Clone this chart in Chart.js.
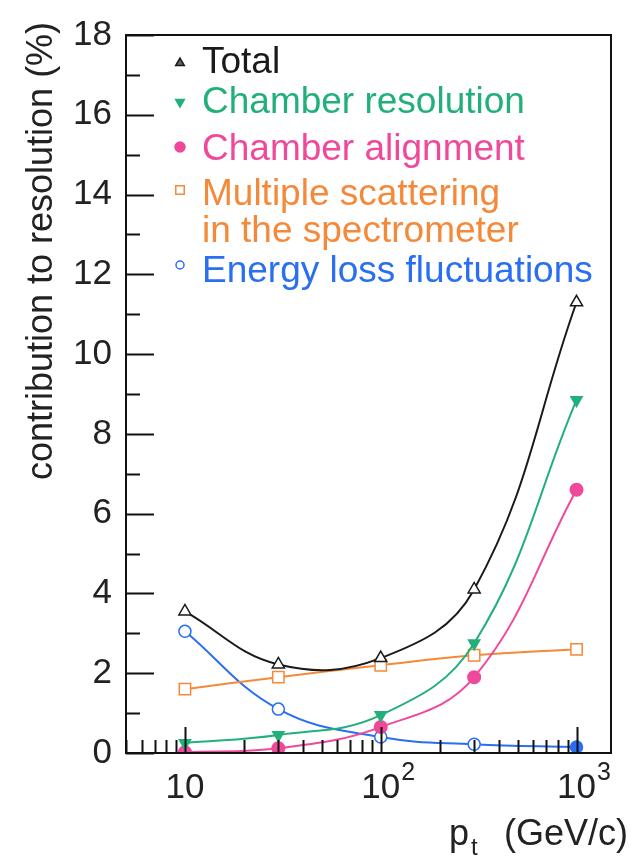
<!DOCTYPE html>
<html>
<head>
<meta charset="utf-8">
<script src="https://cdn.jsdelivr.net/npm/chart.js@4.4.0/dist/chart.umd.min.js"></script>
<style>
  html, body { margin: 0; padding: 0; background: #fff; }
  #c { display: block; }
</style>
</head>
<body>
<canvas id="c" width="635" height="861"></canvas>
<script>
// p_t values (GeV/c)
const ptValues = [10, 30, 100, 300, 1000];

// contribution to resolution (%)
const totalRes = [3.55, 2.22, 2.38, 4.1, 11.3];
const chamberRes = [0.25, 0.45, 0.95, 2.75, 8.85];
const chamberAlign = [0.02, 0.12, 0.65, 1.9, 6.6];
const multScatter = [1.6, 1.9, 2.2, 2.45, 2.6];
const energyLoss = [3.05, 1.1, 0.4, 0.22, 0.15];

const xMajorTicks = [10, 100, 1000];
const xTickLabels = [['10', ''], ['10', '2'], ['10', '3']];

const FONT = '"Liberation Sans", Arial, Helvetica, sans-serif';

const colors = {
    total: '#1a1a1a',
    res: '#22b07a',
    align: '#f0489a',
    scatter: '#f5893a',
    eloss: '#2a6ef2'
};

function toPoints(ys) {
    return ptValues.map((x, i) => ({ x: x, y: ys[i] }));
}

// legend entries drawn inside the plot frame
const legendItems = [
    { text: ['Total'], color: colors.total, style: 'triangle', rot: 0, fill: '#666', r: 5, my: 63, ty: [73] },
    { text: ['Chamber resolution'], color: colors.res, style: 'triangle', rot: 180, fill: colors.res, r: 5, my: 102, ty: [113] },
    { text: ['Chamber alignment'], color: colors.align, style: 'circle', rot: 0, fill: colors.align, r: 5, my: 147, ty: [160] },
    { text: ['Multiple scattering', 'in the spectrometer'], color: colors.scatter, style: 'rect', rot: 0, fill: '#fff', r: 6, my: 190, ty: [205, 242] },
    { text: ['Energy loss fluctuations'], color: colors.eloss, style: 'circle', rot: 0, fill: '#fff', r: 4, my: 265, ty: [282] }
];

const framePlugin = {
    id: 'frame',
    afterDatasetsDraw(chart) {
        const ctx = chart.ctx;
        const a = chart.chartArea;
        const xs = chart.scales.x;
        const ys = chart.scales.y;
        ctx.save();
        ctx.strokeStyle = '#111';
        ctx.lineWidth = 2;
        ctx.strokeRect(a.left, a.top, a.right - a.left, a.bottom - a.top);

        // inward ticks on y axis
        ctx.beginPath();
        for (let v = 0; v <= 18; v++) {
            const py = Math.round(ys.getPixelForValue(v)) + 0.5;
            const len = v % 2 === 0 ? 28 : 14;
            ctx.moveTo(a.left, py);
            ctx.lineTo(a.left + len, py);
        }
        // inward ticks on x axis (log)
        for (let dec = 1; dec <= 1000; dec *= 10) {
            for (let m = 1; m <= 9; m++) {
                const v = m * dec;
                if (v < xs.min || v > xs.max) continue;
                const px = Math.round(xs.getPixelForValue(v)) + 0.5;
                const len = m === 1 ? 26 : 13;
                ctx.moveTo(px, a.bottom);
                ctx.lineTo(px, a.bottom - len);
            }
        }
        ctx.stroke();

        // x tick labels with exponents
        ctx.fillStyle = '#222';
        ctx.textBaseline = 'alphabetic';
        xMajorTicks.forEach((v, i) => {
            const px = xs.getPixelForValue(v);
            ctx.font = '35px ' + FONT;
            ctx.textAlign = 'center';
            ctx.fillText(xTickLabels[i][0], px, 798);
            if (xTickLabels[i][1]) {
                const w = ctx.measureText(xTickLabels[i][0]).width;
                ctx.font = '25px ' + FONT;
                ctx.textAlign = 'left';
                ctx.fillText(xTickLabels[i][1], px + w / 2 + 1, 780);
            }
        });

        // axis titles
        ctx.font = '36px ' + FONT;
        ctx.textAlign = 'left';
        ctx.fillText('p', 449, 845);
        ctx.font = '24px ' + FONT;
        ctx.fillText('t', 471, 855);
        ctx.font = '36px ' + FONT;
        ctx.fillText('(GeV/c)', 504, 845);

        ctx.save();
        ctx.translate(52, 251);
        ctx.rotate(-Math.PI / 2);
        ctx.textAlign = 'center';
        ctx.font = '36px ' + FONT;
        ctx.fillText('contribution to resolution (%)', 0, 0);
        ctx.restore();

        // legend
        legendItems.forEach(it => {
            ctx.fillStyle = it.fill;
            ctx.strokeStyle = it.color;
            ctx.lineWidth = 1.5;
            Chart.helpers.drawPoint(ctx, { pointStyle: it.style, radius: it.r, rotation: it.rot, borderWidth: 1.5 }, 180, it.my);
            ctx.fillStyle = it.color;
            ctx.font = '37px ' + FONT;
            ctx.textAlign = 'left';
            it.text.forEach((t, k) => ctx.fillText(t, 202, it.ty[k]));
        });
        ctx.restore();
    }
};

const ctx = document.getElementById('c').getContext('2d');
const chart = new Chart(ctx, {
    type: 'line',
    data: {
        datasets: [
            {
                label: 'Total',
                data: toPoints(totalRes),
                borderColor: colors.total,
                backgroundColor: '#fff',
                pointStyle: 'triangle',
                pointRadius: 7,
                pointBorderWidth: 1.5,
                borderWidth: 2,
                tension: 0.4
            },
            {
                label: 'Chamber resolution',
                data: toPoints(chamberRes),
                borderColor: colors.res,
                backgroundColor: colors.res,
                pointStyle: 'triangle',
                rotation: 180,
                pointRadius: 6,
                borderWidth: 2,
                tension: 0.4
            },
            {
                label: 'Chamber alignment',
                data: toPoints(chamberAlign),
                borderColor: colors.align,
                backgroundColor: colors.align,
                pointStyle: 'circle',
                pointRadius: 6,
                borderWidth: 2,
                tension: 0.4
            },
            {
                label: 'Multiple scattering in the spectrometer',
                data: toPoints(multScatter),
                borderColor: colors.scatter,
                backgroundColor: '#fff',
                pointStyle: 'rect',
                pointRadius: 8,
                pointBorderWidth: 1.5,
                borderWidth: 2,
                tension: 0.4
            },
            {
                label: 'Energy loss fluctuations',
                data: toPoints(energyLoss),
                borderColor: colors.eloss,
                pointBackgroundColor: ['#fff', '#fff', '#fff', '#fff', colors.eloss],
                pointStyle: 'circle',
                pointRadius: 6,
                pointBorderWidth: 1.5,
                borderWidth: 2,
                tension: 0.4
            }
        ]
    },
    options: {
        responsive: false,
        animation: false,
        layout: { padding: { top: 30, right: 24, bottom: 0, left: 0 } },
        plugins: {
            legend: { display: false },
            tooltip: { enabled: false }
        },
        scales: {
            x: {
                type: 'logarithmic',
                min: 5,
                max: 1500,
                grid: { display: false },
                border: { display: false },
                ticks: { display: false },
                afterFit(s) { s.height = 108; }
            },
            y: {
                min: 0,
                max: 18,
                grid: { display: false, drawTicks: false },
                border: { display: false },
                ticks: {
                    stepSize: 2,
                    padding: 14,
                    color: '#222',
                    font: { family: FONT, size: 35 }
                },
                afterFit(s) { s.width = 126; }
            }
        }
    },
    plugins: [framePlugin]
});
</script>
</body>
</html>
